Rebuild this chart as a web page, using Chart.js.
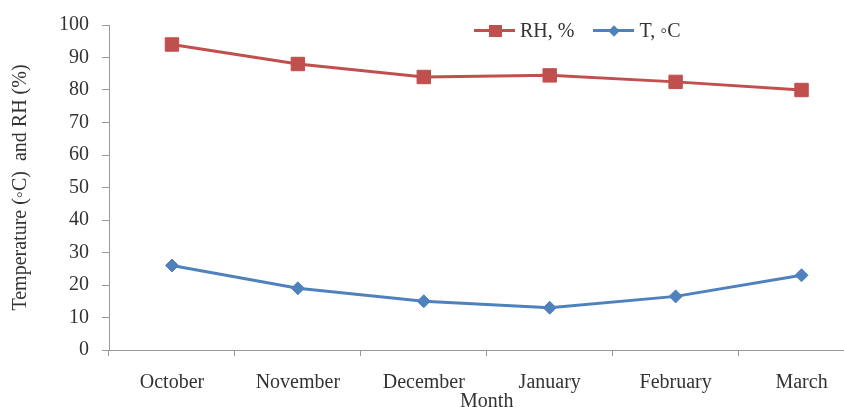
<!DOCTYPE html>
<html>
<head>
<meta charset="utf-8">
<script src="https://cdn.jsdelivr.net/npm/chart.js@4/dist/chart.umd.min.js"></script>
<style>
  html, body { margin: 0; padding: 0; background: #fff; overflow: hidden; }
  #wrap { position: relative; width: 875px; height: 418px; }
  #legend { position: absolute; top: 19px; left: 474px; display: flex; align-items: center;
            font-family: 'Liberation Serif', serif; font-size: 20px; color: #333; }
  .item { display: flex; align-items: center; margin-right: 19px; }
  .mark { position: relative; width: 41px; height: 3px; margin-right: 5px; }
  .mark span { position: absolute; left: 50%; top: 50%; }
</style>
</head>
<body>
<div id="wrap">
  <canvas id="chart" width="875" height="418"></canvas>
  <div id="legend"></div>
</div>
<script>
// 월별 데이터
const months = ['October', 'November', 'December', 'January', 'February', 'March'];
const rhValues = [94, 88, 84, 84.5, 82.5, 80];
const tValues = [26, 19, 15, 13, 16.5, 23];
const seriesNames = ['RH, %', 'T, \u25E6C'];
const yTicks = [0, 10, 20, 30, 40, 50, 60, 70, 80, 90, 100];

const red = '#C0504D';
const blue = '#4F81BD';
const axisGray = '#999';
const textColor = '#333';
const serif = 'Liberation Serif';

const ctx = document.getElementById('chart').getContext('2d');
const chart = new Chart(ctx, {
    type: 'line',
    data: {
        labels: months,
        datasets: [{
            label: seriesNames[0],
            data: rhValues,
            borderColor: red,
            backgroundColor: red,
            borderWidth: 3,
            pointStyle: 'rect',
            pointRadius: 9.5,
            pointBorderWidth: 1,
            tension: 0
        }, {
            label: seriesNames[1],
            data: tValues,
            borderColor: blue,
            backgroundColor: blue,
            borderWidth: 3,
            pointStyle: 'rectRot',
            pointRadius: 6.5,
            pointBorderWidth: 1,
            tension: 0
        }]
    },
    options: {
        responsive: false,
        animation: false,
        devicePixelRatio: 1,
        layout: {
            padding: { top: 18, right: 3, left: 0, bottom: 0 }
        },
        plugins: {
            legend: { display: false },   // 범례는 HTML로
            tooltip: { enabled: false }
        },
        scales: {
            x: {
                offset: true,
                grid: {
                    offset: true,
                    drawOnChartArea: false,
                    tickLength: 6,
                    color: axisGray
                },
                border: { color: axisGray },
                ticks: {
                    color: textColor,
                    font: { family: serif, size: 20 },
                    padding: 15,
                    maxRotation: 0,
                    autoSkip: false
                },
                title: {
                    display: true,
                    text: 'Month',
                    color: textColor,
                    font: { family: serif, size: 20 },
                    padding: { top: 0, bottom: 4 }
                },
                afterFit: (scale) => { scale.height = 68; }
            },
            y: {
                min: 0,
                max: 100,
                grid: {
                    drawOnChartArea: false,
                    tickLength: 7,
                    color: axisGray
                },
                border: { color: axisGray },
                afterBuildTicks: (scale) => { scale.ticks = yTicks.map(v => ({ value: v })); },
                ticks: {
                    color: textColor,
                    font: { family: serif, size: 20 },
                    padding: 13
                },
                title: {
                    display: true,
                    text: 'Temperature (\u25E6C)  and RH (%)',
                    color: textColor,
                    font: { family: serif, size: 20 },
                    padding: { top: 9, bottom: 4 }
                },
                afterFit: (scale) => { scale.width = 109; }
            }
        }
    }
});

// HTML 범례 만들기
const legendEl = document.getElementById('legend');
chart.data.datasets.forEach((ds, i) => {
    const item = document.createElement('div');
    item.className = 'item';
    const mark = document.createElement('div');
    mark.className = 'mark';
    mark.style.background = ds.borderColor;
    const dot = document.createElement('span');
    if (i === 0) {
        dot.style.cssText = 'width:13px;height:12px;margin:-6px 0 0 -6px;background:' + ds.borderColor;
    } else {
        dot.style.cssText = 'width:8px;height:8px;margin:-4px 0 0 -4px;transform:rotate(45deg);background:' + ds.borderColor;
    }
    mark.appendChild(dot);
    const txt = document.createElement('span');
    txt.textContent = ds.label;
    item.appendChild(mark);
    item.appendChild(txt);
    legendEl.appendChild(item);
});
</script>
</body>
</html>
